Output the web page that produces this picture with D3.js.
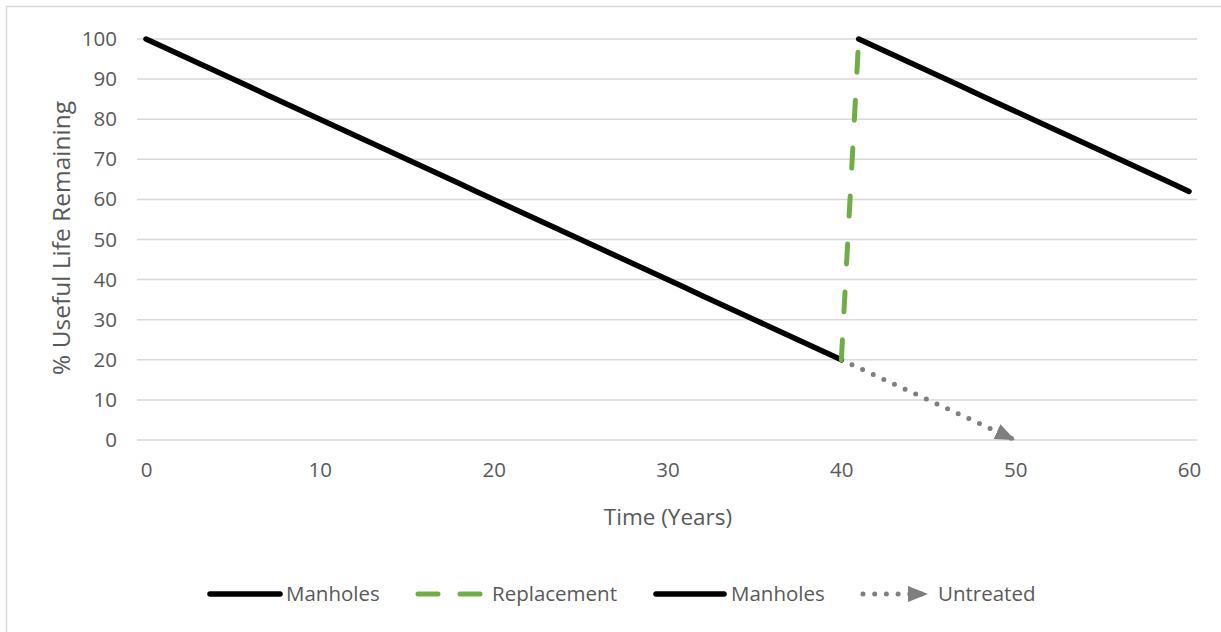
<!DOCTYPE html>
<html>
<head>
<meta charset="utf-8">
<script src="https://cdn.jsdelivr.net/npm/d3@7"></script>
<style>
  html, body { margin: 0; padding: 0; background: #fff; }
  svg { display: block; font-family: "Open Sans", sans-serif; }
</style>
</head>
<body>
<svg id="chart" width="1221" height="632"></svg>
<script>
// Years and % useful life remaining for each series
const manholesYears = d3.range(0, 41);
const manholesValues = [100, 98, 96, 94, 92, 90, 88, 86, 84, 82,
                        80, 78, 76, 74, 72, 70, 68, 66, 64, 62,
                        60, 58, 56, 54, 52, 50, 48, 46, 44, 42,
                        40, 38, 36, 34, 32, 30, 28, 26, 24, 22, 20];
const replacementYears = [40, 41];
const replacementValues = [20, 100];
const manholes2Years = d3.range(41, 61);
const manholes2Values = [100, 98, 96, 94, 92, 90, 88, 86, 84, 82,
                         80, 78, 76, 74, 72, 70, 68, 66, 64, 62];
const untreatedYears = [40, 50];
const untreatedValues = [20, 0];

const yTicks = [0, 10, 20, 30, 40, 50, 60, 70, 80, 90, 100];
const xTicks = [0, 10, 20, 30, 40, 50, 60];

const legendItems = [
  { label: "Manholes", kind: "solid" },
  { label: "Replacement", kind: "dash" },
  { label: "Manholes", kind: "solid" },
  { label: "Untreated", kind: "dot" }
];

const svg = d3.select("#chart");
const W = 1221, H = 632;

const x = d3.scaleLinear().domain([0, 60]).range([146, 1189]);
const y = d3.scaleLinear().domain([0, 100]).range([440, 39]);

const gridColor = "#d9d9d9";
const textColor = "#595959";
const black = "#000000";
const green = "#70ad47";
const grey = "#7f7f7f";

// outer chart frame
svg.append("rect")
  .attr("x", 6.5).attr("y", 6.5)
  .attr("width", W + 20).attr("height", H + 20)
  .attr("fill", "none").attr("stroke", gridColor).attr("stroke-width", 1.5);

// arrow head for the untreated path
const defs = svg.append("defs");
defs.append("marker")
  .attr("id", "arrowHead")
  .attr("markerUnits", "userSpaceOnUse")
  .attr("viewBox", "0 0 20 16")
  .attr("refX", 20).attr("refY", 8)
  .attr("markerWidth", 20).attr("markerHeight", 16)
  .attr("orient", "auto")
  .append("path")
  .attr("d", "M0,0 L20,8 L0,16 Z")
  .attr("fill", grey);

// horizontal gridlines
svg.append("g")
  .selectAll("line")
  .data(yTicks)
  .join("line")
  .attr("x1", x(0) - 9).attr("x2", x(60) + 8)
  .attr("y1", d => y(d)).attr("y2", d => y(d))
  .attr("stroke", gridColor).attr("stroke-width", 1.5);

// y axis tick labels
const yAxis = d3.axisLeft(y).tickValues(yTicks).tickSize(0).tickPadding(0);
const yG = svg.append("g").attr("transform", "translate(117,0)").call(yAxis);
yG.select(".domain").remove();
yG.selectAll("text")
  .attr("fill", textColor).attr("font-size", 20.5)
  .attr("font-family", "'Open Sans', sans-serif");

// x axis tick labels
const xAxis = d3.axisBottom(x).tickValues(xTicks).tickSize(0).tickPadding(0);
const xG = svg.append("g").attr("transform", "translate(0,462)").call(xAxis);
xG.select(".domain").remove();
xG.selectAll("text")
  .attr("fill", textColor).attr("font-size", 20.5)
  .attr("font-family", "'Open Sans', sans-serif");

// axis titles
svg.append("text")
  .attr("x", 668).attr("y", 525)
  .attr("text-anchor", "middle")
  .attr("fill", textColor).attr("font-size", 22.5)
  .text("Time (Years)");

svg.append("text")
  .attr("transform", "translate(70,238) rotate(-90)")
  .attr("text-anchor", "middle")
  .attr("fill", textColor).attr("font-size", 24.5)
  .text("% Useful Life Remaining");

const line = d3.line().x(d => x(d[0])).y(d => y(d[1]));
const zip = (a, b) => a.map((v, i) => [v, b[i]]);

// untreated decline (dotted, with arrow)
svg.append("path")
  .datum(zip(untreatedYears, untreatedValues))
  .attr("d", line)
  .attr("fill", "none").attr("stroke", grey).attr("stroke-width", 5)
  .attr("stroke-linecap", "round")
  .attr("stroke-dasharray", "0 11.7")
  .attr("marker-end", "url(#arrowHead)");

// first manholes segment
svg.append("path")
  .datum(zip(manholesYears, manholesValues))
  .attr("d", line)
  .attr("fill", "none").attr("stroke", black).attr("stroke-width", 5.5)
  .attr("stroke-linecap", "round").attr("stroke-linejoin", "round");

// replacement jump
svg.append("path")
  .datum(zip(replacementYears, replacementValues))
  .attr("d", line)
  .attr("fill", "none").attr("stroke", green).attr("stroke-width", 5)
  .attr("stroke-linecap", "round")
  .attr("stroke-dasharray", "20 28");

// second manholes segment
svg.append("path")
  .datum(zip(manholes2Years, manholes2Values))
  .attr("d", line)
  .attr("fill", "none").attr("stroke", black).attr("stroke-width", 5.5)
  .attr("stroke-linecap", "round").attr("stroke-linejoin", "round");

// legend
const legendPos = [
  { sx: 210, ex: 280, tx: 286 },
  { sx: 418, ex: 482, tx: 492 },
  { sx: 656, ex: 724, tx: 731 },
  { sx: 863, ex: 928, tx: 938 }
];
const ly = 594;
const lg = svg.append("g");
legendItems.forEach((item, i) => {
  const p = legendPos[i];
  if (item.kind === "solid") {
    lg.append("line").attr("x1", p.sx).attr("x2", p.ex).attr("y1", ly).attr("y2", ly)
      .attr("stroke", black).attr("stroke-width", 5.5).attr("stroke-linecap", "round");
  } else if (item.kind === "dash") {
    lg.append("line").attr("x1", p.sx).attr("x2", p.ex).attr("y1", ly).attr("y2", ly)
      .attr("stroke", green).attr("stroke-width", 5).attr("stroke-linecap", "round")
      .attr("stroke-dasharray", "20 22");
  } else {
    lg.append("line").attr("x1", p.sx).attr("x2", p.ex).attr("y1", ly).attr("y2", ly)
      .attr("stroke", grey).attr("stroke-width", 5).attr("stroke-linecap", "round")
      .attr("stroke-dasharray", "0 11.7")
      .attr("marker-end", "url(#arrowHead)");
  }
  lg.append("text")
    .attr("x", p.tx).attr("y", ly)
    .attr("dy", "0.35em")
    .attr("fill", textColor).attr("font-size", 20.5)
    .text(item.label);
});
</script>
</body>
</html>
